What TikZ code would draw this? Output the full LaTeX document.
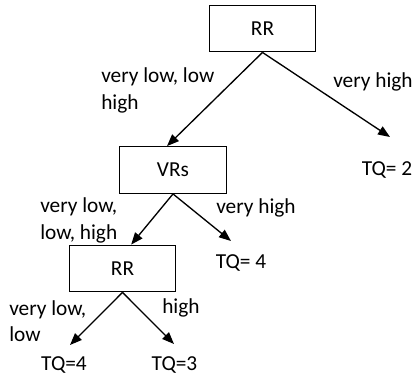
\documentclass[tikz,border=0pt]{standalone}
\usepackage{fontspec}
\setmainfont{Carlito}
\usetikzlibrary{arrows.meta}

\begin{document}
\begin{tikzpicture}[x=0.75pt, y=-0.75pt, font=\fontsize{16}{20}\selectfont,
  box/.style={draw, line width=0.9pt, minimum width=80pt, minimum height=35pt, inner sep=0pt},
  leaf/.style={inner sep=0pt},
  branch/.style={-{Triangle[length=9pt,width=7pt]}, line width=1pt},
  lbl/.style={anchor=west, align=left, inner sep=0pt}]
\useasboundingbox (0,0) rectangle (414,381);
% decision nodes
\node[box] (rr1) at (262.5,28.5) {RR};
\node[box] (vrs) at (173,170) {VRs};
\node[box] (rr2) at (122.5,268.5) {RR};
% leaves
\node[leaf] (tq2) at (387,170) {TQ= 2};
\node[leaf] (tq4a) at (241,263) {TQ= 4};
\node[leaf] (tq4b) at (64,365) {TQ=4};
\node[leaf] (tq3) at (174.5,365) {TQ=3};
\coordinate (e2) at (390,137);
\coordinate (e4a) at (231,241);
\coordinate (e4b) at (70,345);
\coordinate (e3) at (174,344);
% branches
\draw[branch] (rr1.south) -- ([xshift=-4.5pt]vrs.north);
\draw[branch] (rr1.south) -- (e2);
\draw[branch] (vrs.south) -- ([xshift=6.5pt]rr2.north);
\draw[branch] (vrs.south) -- (e4a);
\draw[branch] (rr2.south) -- (e4b);
\draw[branch] (rr2.south) -- (e3);
% branch labels
\node[lbl] (l1) at (101,90.5) {very low, low\\high};
\node[lbl] (l2) at (333,82) {very high};
\node[lbl] (l3) at (40,220.5) {very low,\\low, high};
\node[lbl] (l4) at (216,208) {very high};
\node[lbl] (l5) at (9,321) {very low,\\low};
\node[lbl] (l6) at (162,308) {high};
\end{tikzpicture}
\end{document}
